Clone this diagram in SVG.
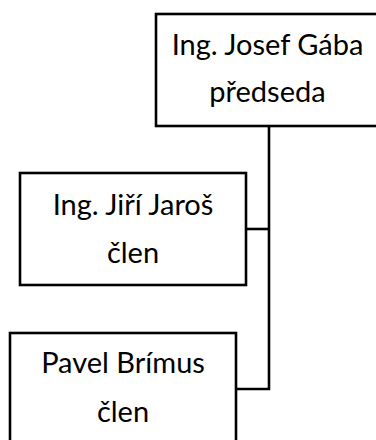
<svg xmlns="http://www.w3.org/2000/svg" width="376" height="440" viewBox="0 0 376 440">
  <style>
    .box { fill: #ffffff; stroke: #000000; stroke-width: 2.6; }
    .link { fill: none; stroke: #000000; stroke-width: 2.6; }
    .label { font-family: Lato, "Liberation Sans", sans-serif; font-size: 29px; fill: #000000; text-anchor: middle; }
  </style>
  <rect width="376" height="440" fill="#ffffff"/>
  <g id="connectors">
    <path class="link" d="M269 126 V389 H236"/>
    <path class="link" d="M246 229 H269"/>
  </g>
  <g id="node-gaba">
    <rect class="box" x="156" y="14" width="223" height="112"/>
    <text class="label" x="267.5" y="55">Ing. Josef Gába</text>
    <text class="label" x="267.5" y="102">předseda</text>
  </g>
  <g id="node-jaros">
    <rect class="box" x="20" y="173" width="226" height="112"/>
    <text class="label" x="133" y="215">Ing. Jiří Jaroš</text>
    <text class="label" x="133" y="263">člen</text>
  </g>
  <g id="node-brimus">
    <rect class="box" x="10" y="333" width="226" height="112"/>
    <text class="label" x="123" y="373">Pavel Brímus</text>
    <text class="label" x="123" y="422">člen</text>
  </g>
</svg>
